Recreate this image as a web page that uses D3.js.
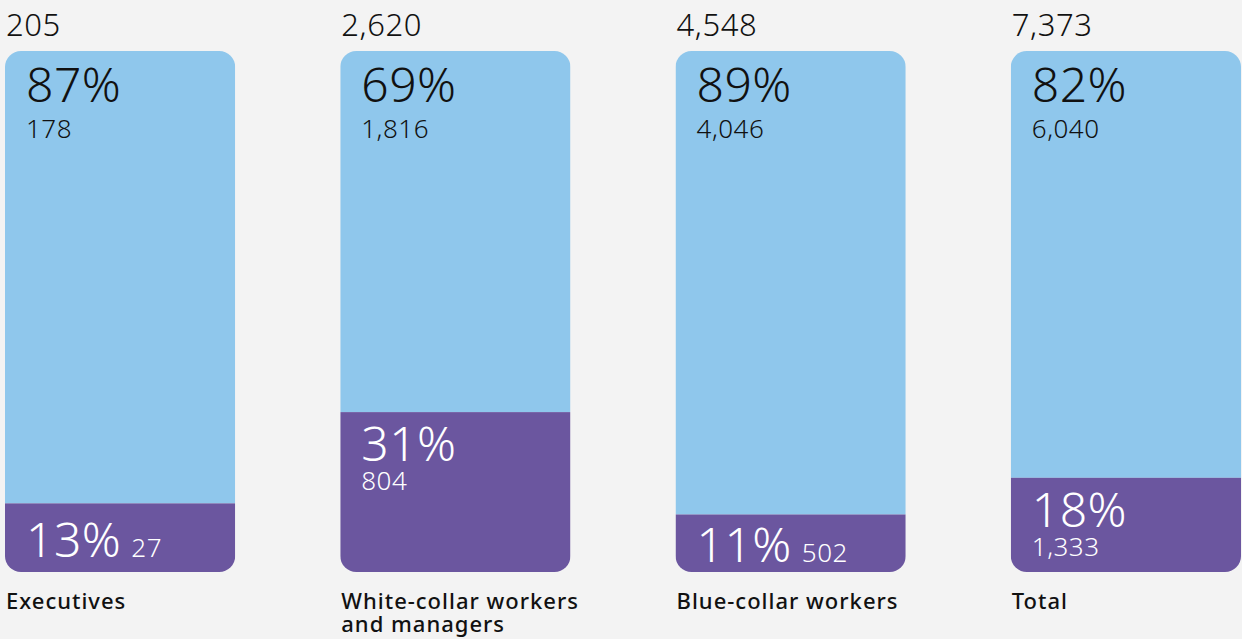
<!DOCTYPE html>
<html>
<head>
<meta charset="utf-8">
<script src="https://cdn.jsdelivr.net/npm/d3@7"></script>
<style>
  html, body { margin: 0; padding: 0; background: #f3f3f3; }
  svg { display: block; font-family: "Noto Sans", "Open Sans", sans-serif; }
</style>
</head>
<body>
<svg id="chart" width="1242" height="639"></svg>
<script>
// Workforce groups and their two-part split
const categories = ["Executives", "White-collar workers", "Blue-collar workers", "Total"];
const categoryLines = [["Executives"], ["White-collar workers", "and managers"], ["Blue-collar workers"], ["Total"]];
const totals = [205, 2620, 4548, 7373];
const upperCounts = [178, 1816, 4046, 6040];
const lowerCounts = [27, 804, 502, 1333];
const upperPct = [87, 69, 89, 82];
const lowerPct = [13, 31, 11, 18];

const W = 1242, H = 639;
const svg = d3.select("#chart");
const fmt = d3.format(",");

const x = d3.scaleBand().domain(categories).range([5, 1241]).paddingInner(0.3134).paddingOuter(0);
const y = d3.scaleLinear().domain([0, 1]).range([572, 51]);

const colUpper = "#8fc7ec", colLower = "#6b569f", ink = "#111111";
const radius = 16;
const pad = 21;
const bigSize = 48, smallSize = 26, numWeight = 350;

const rows = categories.map((c, i) => ({
  c, i, lines: categoryLines[i], total: totals[i],
  up: upperCounts[i], low: lowerCounts[i],
  upP: upperPct[i], lowP: lowerPct[i],
  share: lowerCounts[i] / totals[i]
}));

const defs = svg.append("defs");
rows.forEach(d => {
  defs.append("clipPath").attr("id", "clip" + d.i)
    .append("rect")
    .attr("x", x(d.c)).attr("y", y(1))
    .attr("width", x.bandwidth()).attr("height", y(0) - y(1))
    .attr("rx", radius).attr("ry", radius);
});

const g = svg.selectAll("g.bar").data(rows).join("g").attr("class", "bar");

// segments
g.append("g").attr("clip-path", d => `url(#clip${d.i})`).each(function(d) {
  const s = d3.select(this);
  s.append("rect").attr("x", x(d.c)).attr("y", y(1))
    .attr("width", x.bandwidth()).attr("height", y(d.share) - y(1))
    .attr("fill", colUpper);
  s.append("rect").attr("x", x(d.c)).attr("y", y(d.share))
    .attr("width", x.bandwidth()).attr("height", y(0) - y(d.share))
    .attr("fill", colLower);
});

// total above each bar
g.append("text")
  .attr("x", d => x(d.c) + 1).attr("y", 36)
  .attr("font-size", 31).attr("font-weight", numWeight).attr("letter-spacing", 0.6).attr("fill", ink)
  .text(d => fmt(d.total));

// upper segment labels
g.append("text")
  .attr("x", d => x(d.c) + pad).attr("y", y(1) + 51)
  .attr("font-size", bigSize).attr("font-weight", numWeight).attr("letter-spacing", 0.5).attr("fill", ink)
  .text(d => d.upP + "%");
g.append("text")
  .attr("x", d => x(d.c) + pad).attr("y", y(1) + 87)
  .attr("font-size", smallSize).attr("font-weight", numWeight).attr("letter-spacing", 0.5).attr("fill", ink)
  .text(d => fmt(d.up));

// lower segment labels: stacked when the segment is tall, inline otherwise
g.each(function(d) {
  const s = d3.select(this);
  const top = y(d.share), bottom = y(0);
  const tall = (bottom - top) > 80;
  if (tall) {
    s.append("text").attr("x", x(d.c) + pad).attr("y", top + 49)
      .attr("font-size", bigSize).attr("font-weight", numWeight).attr("letter-spacing", 0.5)
      .attr("fill", "#fff").text(d.lowP + "%");
    s.append("text").attr("x", x(d.c) + pad).attr("y", top + 78)
      .attr("font-size", smallSize).attr("font-weight", numWeight).attr("letter-spacing", 0.5)
      .attr("fill", "#fff").text(fmt(d.low));
  } else {
    const base = (top + bottom) / 2 + 19;
    const t = s.append("text").attr("x", x(d.c) + pad).attr("y", base)
      .attr("font-weight", numWeight).attr("letter-spacing", 0.5).attr("fill", "#fff");
    t.append("tspan").attr("font-size", bigSize).text(d.lowP + "%");
    t.append("tspan").attr("font-size", smallSize).attr("dx", 10).text(fmt(d.low));
  }
});

// category labels
g.append("text")
  .attr("x", d => x(d.c) + 1).attr("y", 609)
  .attr("font-size", 22).attr("font-weight", 500).attr("letter-spacing", 1.0).attr("fill", ink)
  .selectAll("tspan").data(d => d.lines.map(l => ({ l, x: x(d.c) + 1 })))
  .join("tspan")
  .attr("x", t => t.x).attr("dy", (t, j) => j === 0 ? 0 : 23)
  .text(t => t.l);
</script>
</body>
</html>
